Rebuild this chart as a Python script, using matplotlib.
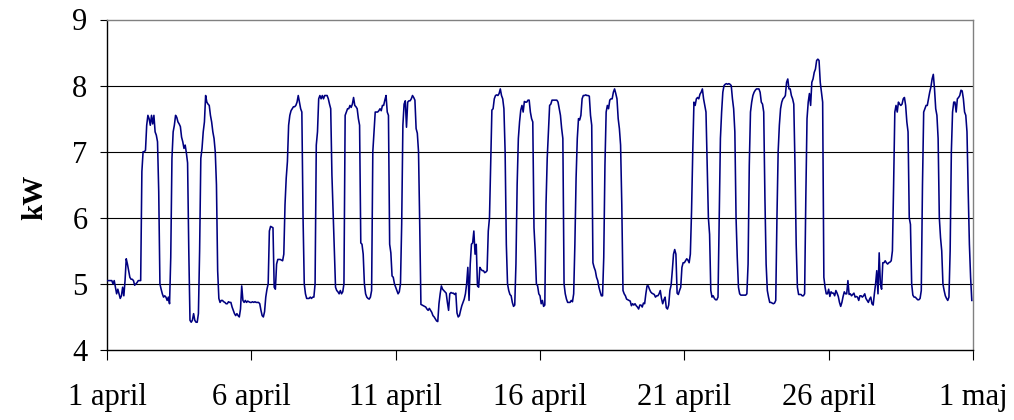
"""Hourly power use in kW, 1 april - 1 maj."""
import numpy as np
import matplotlib
matplotlib.use("Agg")
from matplotlib import pyplot as plt


# hourly kW readings, 24 per day
apr01 = [5.05, 5.05, 5.05, 5.05, 5.05, 5.0, 5.05, 4.95, 4.85, 4.92, 4.85, 4.78,
         4.82, 4.95, 4.82, 5.05, 5.38, 5.3, 5.2, 5.1, 5.07, 5.07, 5.05, 4.98]
apr02 = [5.0, 5.02, 5.05, 5.05, 5.05, 6.7, 7.0, 7.0, 7.02, 7.4, 7.55, 7.5,
         7.4, 7.55, 7.42, 7.55, 7.3, 7.25, 7.15, 6.4, 5.0, 4.92, 4.85, 4.8]
apr03 = [4.82, 4.8, 4.75, 4.8, 4.7, 5.4, 6.9, 7.3, 7.4, 7.55, 7.52, 7.45,
         7.42, 7.38, 7.22, 7.15, 7.05, 7.1, 6.98, 6.83, 5.5, 4.45, 4.42, 4.45]
apr04 = [4.55, 4.45, 4.42, 4.42, 4.55, 5.5, 6.9, 7.05, 7.3, 7.45, 7.85, 7.75,
         7.72, 7.7, 7.55, 7.45, 7.3, 7.2, 7.0, 6.5, 5.2, 4.78, 4.72, 4.75]
apr05 = [4.75, 4.73, 4.72, 4.7, 4.7, 4.73, 4.72, 4.72, 4.65, 4.6, 4.55, 4.52,
         4.55, 4.52, 4.5, 4.62, 4.97, 4.75, 4.72, 4.75, 4.72, 4.74, 4.73, 4.72]
apr06 = [4.72, 4.73, 4.72, 4.73, 4.72, 4.72, 4.72, 4.7, 4.6, 4.52, 4.5, 4.58,
         4.8, 4.92, 5.0, 5.8, 5.87, 5.86, 5.85, 4.95, 4.92, 5.3, 5.37, 5.37]
apr07 = [5.37, 5.36, 5.35, 5.45, 6.2, 6.6, 6.85, 7.4, 7.55, 7.62, 7.65, 7.68,
         7.68, 7.7, 7.75, 7.85, 7.75, 7.65, 7.6, 6.0, 5.0, 4.85, 4.78, 4.78]
apr08 = [4.78, 4.8, 4.78, 4.8, 4.8, 5.0, 7.1, 7.3, 7.8, 7.85, 7.8, 7.85,
         7.8, 7.85, 7.85, 7.85, 7.8, 7.72, 7.65, 6.65, 6.1, 5.5, 4.95, 4.9]
apr09 = [4.88, 4.85, 4.9, 4.85, 4.88, 5.0, 7.55, 7.6, 7.65, 7.65, 7.7, 7.67,
         7.72, 7.82, 7.7, 7.68, 7.65, 7.5, 7.4, 5.62, 5.6, 5.45, 5.0, 4.85]
apr10 = [4.8, 4.78, 4.77, 4.8, 4.9, 7.0, 7.3, 7.6, 7.6, 7.6, 7.62, 7.65,
         7.62, 7.7, 7.7, 7.78, 7.85, 7.6, 7.55, 5.6, 5.47, 5.12, 5.1, 5.0]
apr11 = [4.95, 4.9, 4.85, 4.88, 5.0, 5.9, 7.4, 7.72, 7.77, 7.37, 7.75, 7.77,
         7.77, 7.8, 7.85, 7.82, 7.78, 7.35, 7.28, 7.0, 5.9, 4.69, 4.68, 4.67]
apr12 = [4.66, 4.65, 4.62, 4.6, 4.63, 4.6, 4.57, 4.52, 4.5, 4.47, 4.44, 4.43,
         4.7, 4.85, 4.97, 4.92, 4.9, 4.88, 4.86, 4.72, 4.6, 4.85, 4.87, 4.86]
apr13 = [4.86, 4.84, 4.86, 4.56, 4.5, 4.52, 4.6, 4.67, 4.72, 4.77, 4.85, 5.0,
         5.25, 4.75, 5.3, 5.6, 5.62, 5.8, 5.45, 5.6, 4.97, 4.95, 5.25, 5.22]
apr14 = [5.2, 5.2, 5.17, 5.18, 5.2, 5.8, 6.0, 6.8, 7.63, 7.65, 7.8, 7.85,
         7.86, 7.85, 7.88, 7.95, 7.85, 7.8, 7.65, 7.0, 5.6, 5.0, 4.9, 4.84]
apr15 = [4.82, 4.72, 4.66, 4.68, 5.3, 6.5, 7.2, 7.45, 7.63, 7.7, 7.6, 7.76,
         7.75, 7.75, 7.78, 7.78, 7.6, 7.5, 7.45, 5.85, 5.5, 5.0, 4.97, 4.85]
apr16 = [4.82, 4.7, 4.75, 4.66, 4.68, 6.2, 6.9, 7.3, 7.7, 7.72, 7.78, 7.78,
         7.78, 7.78, 7.78, 7.75, 7.65, 7.55, 7.35, 7.2, 5.0, 4.85, 4.77, 4.72]
apr17 = [4.72, 4.72, 4.75, 4.73, 4.85, 5.6, 6.6, 7.2, 7.5, 7.48, 7.55, 7.8,
         7.85, 7.85, 7.86, 7.85, 7.85, 7.84, 7.55, 7.4, 5.32, 5.25, 5.2, 5.1]
apr18 = [5.05, 4.95, 4.88, 4.82, 4.82, 5.4, 6.8, 7.6, 7.7, 7.65, 7.78, 7.8,
         7.8, 7.9, 7.95, 7.88, 7.8, 7.5, 7.35, 7.1, 6.2, 4.9, 4.85, 4.82]
apr19 = [4.77, 4.76, 4.75, 4.74, 4.67, 4.7, 4.68, 4.7, 4.67, 4.65, 4.62, 4.68,
         4.68, 4.65, 4.71, 4.7, 4.85, 4.97, 4.97, 4.92, 4.88, 4.86, 4.85, 4.84]
apr20 = [4.8, 4.82, 4.82, 4.85, 4.9, 4.78, 4.7, 4.76, 4.8, 4.64, 4.62, 4.68,
         4.9, 4.98, 5.2, 5.45, 5.52, 5.45, 4.86, 4.84, 4.9, 4.95, 5.25, 5.32]
apr21 = [5.32, 5.35, 5.38, 5.36, 5.32, 5.45, 6.1, 7.0, 7.75, 7.7, 7.8, 7.82,
         7.8, 7.87, 7.9, 7.95, 7.8, 7.7, 7.6, 6.8, 6.0, 5.75, 4.9, 4.8]
apr22 = [4.82, 4.78, 4.76, 4.76, 4.8, 6.0, 7.2, 7.6, 7.9, 8.0, 8.02, 8.03,
         8.02, 8.03, 8.02, 8.0, 7.8, 7.65, 7.3, 6.0, 5.4, 4.95, 4.85, 4.83]
apr23 = [4.83, 4.83, 4.83, 4.83, 4.85, 5.3, 6.8, 7.6, 7.75, 7.85, 7.9, 7.93,
         7.95, 7.95, 7.95, 7.9, 7.75, 7.72, 7.6, 6.3, 5.3, 4.9, 4.8, 4.72]
apr24 = [4.72, 4.71, 4.7, 4.71, 4.75, 6.0, 7.0, 7.4, 7.65, 7.75, 7.8, 7.82,
         7.85, 8.05, 8.1, 7.95, 7.95, 7.85, 7.8, 7.72, 6.8, 5.6, 4.95, 4.84]
apr25 = [4.84, 4.84, 4.82, 4.82, 4.85, 6.3, 7.5, 7.75, 7.88, 7.7, 8.05, 8.1,
         8.2, 8.25, 8.38, 8.4, 8.38, 8.05, 7.9, 7.75, 5.1, 4.95, 4.85, 4.85]
apr26 = [4.92, 4.81, 4.88, 4.86, 4.86, 4.82, 4.9, 4.86, 4.81, 4.72, 4.66, 4.72,
         4.81, 4.88, 4.85, 4.85, 5.05, 4.84, 4.85, 4.82, 4.84, 4.86, 4.8, 4.81]
apr27 = [4.8, 4.75, 4.82, 4.82, 4.8, 4.82, 4.85, 4.78, 4.75, 4.72, 4.77, 4.8,
         4.7, 4.68, 4.85, 5.0, 5.2, 4.85, 5.47, 5.0, 4.92, 5.32, 5.32, 5.35]
apr28 = [5.32, 5.3, 5.32, 5.33, 5.35, 5.5, 6.5, 7.6, 7.7, 7.6, 7.75, 7.72,
         7.7, 7.72, 7.8, 7.82, 7.7, 7.45, 7.3, 6.0, 5.9, 5.0, 4.83, 4.8]
apr29 = [4.8, 4.78, 4.76, 4.76, 4.78, 4.9, 6.5, 7.6, 7.65, 7.7, 7.7, 7.8,
         7.9, 7.98, 8.1, 8.17, 7.95, 7.65, 7.55, 7.2, 6.0, 5.7, 5.5, 5.0]
apr30 = [4.9, 4.82, 4.78, 4.75, 4.8, 5.5, 7.0, 7.6, 7.75, 7.75, 7.6, 7.8,
         7.82, 7.85, 7.93, 7.92, 7.8, 7.6, 7.55, 7.3, 6.4, 5.6, 5.1, 4.75]

tick_days = [0, 5, 10, 15, 20, 25, 30]
tick_labels = ["1 april", "6 april", "11 april", "16 april",
               "21 april", "26 april", "1 maj"]
y_ticks = [4, 5, 6, 7, 8, 9]


def main():
    days = [apr01, apr02, apr03, apr04, apr05, apr06, apr07, apr08, apr09,
            apr10, apr11, apr12, apr13, apr14, apr15, apr16, apr17, apr18,
            apr19, apr20, apr21, apr22, apr23, apr24, apr25, apr26, apr27,
            apr28, apr29, apr30]
    kw = np.concatenate(days)
    t = np.arange(len(kw)) / 24.0  # time in days from 1 april

    plt.rcParams['font.family'] = ['Liberation Serif', 'DejaVu Serif']
    fig = plt.figure(figsize=(10.14, 4.2), dpi=100)
    ax = fig.add_axes([107 / 1014, 1 - 350 / 420,
                       (973 - 107) / 1014, (350 - 19.5) / 420])

    for v in y_ticks[1:-1]:
        ax.axhline(v, color='black', lw=0.8, zorder=1)
    ax.plot(t, kw, color='#000080', lw=1.15, zorder=3)

    ax.set_xlim(0, 30)
    ax.set_ylim(4, 9)
    ax.set_xticks(tick_days)
    ax.set_xticklabels(tick_labels)
    ax.set_yticks(y_ticks)

    for side in ['top', 'right']:
        ax.spines[side].set_color('#808080')
        ax.spines[side].set_linewidth(1.0)
    for side in ['left', 'bottom']:
        ax.spines[side].set_color('black')
        ax.spines[side].set_linewidth(1.0)

    ax.tick_params(axis='x', direction='out', length=7.5, width=0.8,
                   pad=16, labelsize=22)
    ax.tick_params(axis='y', direction='out', length=5, width=0.8,
                   pad=9, labelsize=22)
    # y label sits a bit below the axes centre in the original
    fig.text(35 / 1014, 1 - 197 / 420, 'kW', fontweight='bold', fontsize=21,
             rotation=90, ha='center', va='center')

    fig.savefig('out.png', dpi=100)
    plt.close(fig)


if __name__ == "__main__":
    main()
